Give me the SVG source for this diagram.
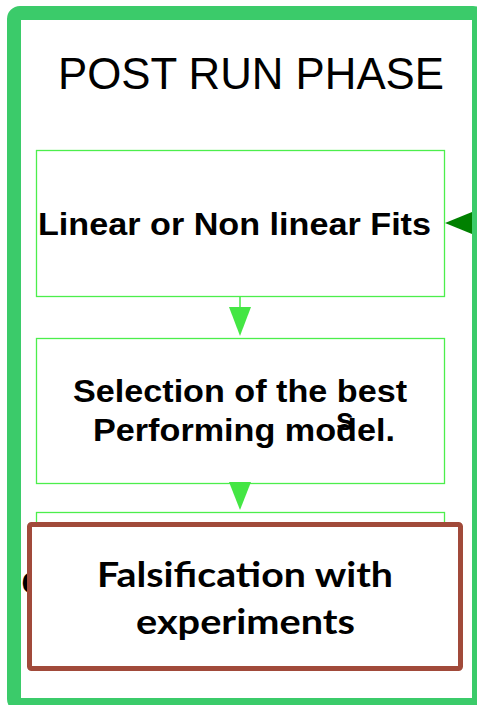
<svg xmlns="http://www.w3.org/2000/svg" width="477" height="705" viewBox="0 0 477 705">
  <style>
    .frame { fill: #ffffff; stroke: #3bcb6a; stroke-width: 14; }
    .box { fill: #ffffff; stroke: #4cee4c; stroke-width: 1.3; }
    .label { font-family: "Liberation Sans", Arial, sans-serif; font-weight: bold; font-size: 32px; fill: #000000; }
    .title { font-family: "Liberation Sans", Arial, sans-serif; font-size: 44px; fill: #000000; }
    .line { stroke: #44e644; stroke-width: 1.5; fill: none; }
    .head { fill: #44e644; }
    .note { fill: #ffffff; stroke: #a14a3a; stroke-width: 5; }
    .note-text { font-family: Lato, "Open Sans", sans-serif; font-weight: bold; font-size: 34px; fill: #000000; }
  </style>

  <!-- outer phase frame -->
  <g id="phase-frame">
    <rect class="frame" x="14" y="13" width="465" height="692" rx="6"/>
    <text class="title" x="58" y="89" textLength="386" lengthAdjust="spacingAndGlyphs">POST RUN PHASE</text>
  </g>

  <g id="node-fits">
    <rect class="box" x="36.5" y="150.5" width="408" height="146"/>
    <text class="label" x="38" y="235" textLength="393" lengthAdjust="spacingAndGlyphs">Linear or Non linear Fits</text>
  </g>

  <g id="node-selection">
    <rect class="box" x="36.5" y="338.5" width="408" height="145"/>
    <text class="label" x="73" y="402" textLength="334" lengthAdjust="spacingAndGlyphs">Selection of the best</text>
    <text class="label" x="93" y="441" textLength="302" lengthAdjust="spacingAndGlyphs">Performing model.</text>
    <text class="label" x="336" y="430">s</text>
  </g>

  <!-- third step, mostly covered by the falsification note -->
  <g id="node-comparison">
    <rect class="box" x="36.5" y="512.5" width="408" height="140"/>
    <text class="label" x="21.5" y="594">C</text>
  </g>

  <g id="connectors">
    <line class="line" x1="240" y1="297" x2="240" y2="308"/>
    <polygon class="head" points="229,307 251,307 240,336"/>
    <polygon class="head" points="229,482 251,482 240,510"/>
    <polygon fill="#008000" points="445,223 472,212 472,234"/>
  </g>

  <g id="node-falsification">
    <rect class="note" x="29.5" y="524.5" width="431" height="144" rx="2"/>
    <text class="note-text" x="97" y="587" textLength="296" lengthAdjust="spacingAndGlyphs">Falsification with</text>
    <text class="note-text" x="136" y="634" textLength="219" lengthAdjust="spacingAndGlyphs">experiments</text>
  </g>
</svg>
